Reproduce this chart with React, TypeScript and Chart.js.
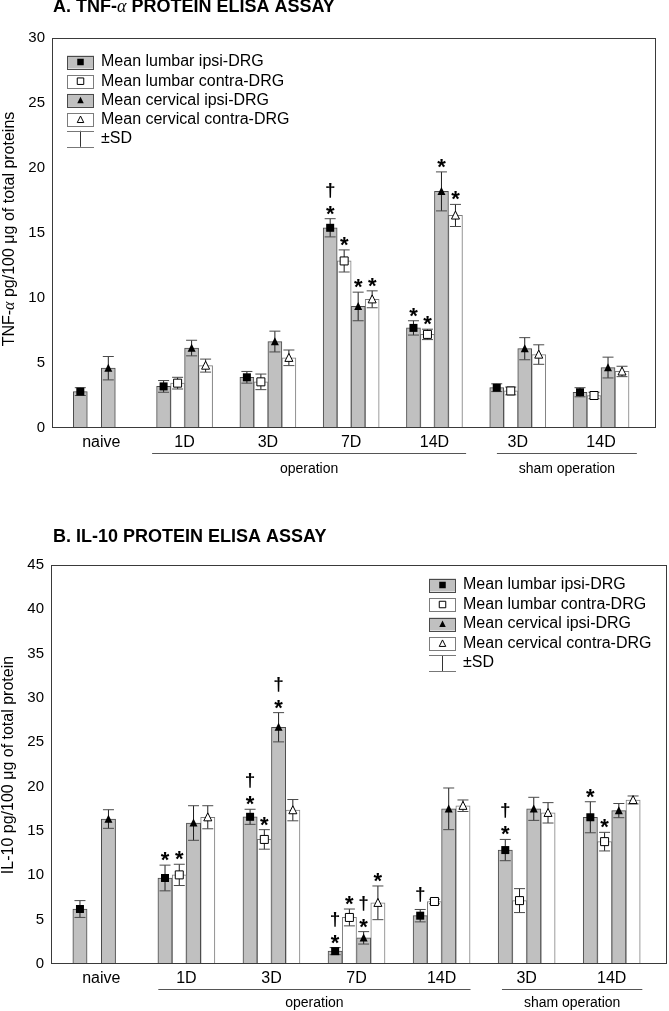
import React, { useEffect, useRef } from "react";
import { Chart, registerables, ChartConfiguration, Plugin } from "chart.js";

Chart.register(...registerables);

const groupLabels = ["naive", "1D", "3D", "7D", "14D", "3D", "14D"];
const seriesLabels = [
  "Mean lumbar ipsi-DRG",
  "Mean lumbar contra-DRG",
  "Mean cervical ipsi-DRG",
  "Mean cervical contra-DRG",
];

// A. TNF-alpha, pg/100 ug of total proteins (mean, SD)
const tnfLumbarIpsi = [2.8, 3.2, 3.9, 15.4, 7.7, 3.1, 2.75];
const tnfLumbarIpsiSd = [0.3, 0.45, 0.45, 0.7, 0.55, 0.3, 0.35];
const tnfLumbarContra = [null, 3.45, 3.55, 12.85, 7.2, 2.85, 2.5];
const tnfLumbarContraSd = [null, 0.45, 0.6, 0.85, 0.4, 0.3, 0.25];
const tnfCervicalIpsi = [4.6, 6.15, 6.65, 9.35, 18.2, 6.1, 4.65];
const tnfCervicalIpsiSd = [0.9, 0.6, 0.8, 1.1, 1.5, 0.85, 0.8];
const tnfCervicalContra = [null, 4.8, 5.4, 9.9, 16.35, 5.65, 4.35];
const tnfCervicalContraSd = [null, 0.5, 0.6, 0.65, 0.85, 0.75, 0.4];
// significance marks: * and/or †
const tnfLumbarIpsiMarks = ["", "", "", "*†", "*", "", ""];
const tnfLumbarContraMarks = ["", "", "", "*", "*", "", ""];
const tnfCervicalIpsiMarks = ["", "", "", "*", "*", "", ""];
const tnfCervicalContraMarks = ["", "", "", "*", "*", "", ""];

// B. IL-10, pg/100 ug of total protein (mean, SD)
const il10LumbarIpsi = [6.2, 9.7, 16.6, 1.45, 5.45, 12.85, 16.55];
const il10LumbarIpsiSd = [0.95, 1.45, 0.85, 0.4, 0.7, 1.2, 1.75];
const il10LumbarContra = [null, 10.05, 14.05, 5.25, 7.05, 7.15, 13.8];
const il10LumbarContraSd = [null, 1.2, 1.1, 0.95, 0.25, 1.35, 1.05];
const il10CervicalIpsi = [16.35, 15.9, 26.7, 2.95, 17.5, 17.5, 17.3];
const il10CervicalIpsiSd = [1.05, 1.95, 1.65, 0.7, 2.35, 1.3, 0.8];
const il10CervicalContra = [null, 16.55, 17.35, 6.9, 17.85, 17.05, 18.5];
const il10CervicalContraSd = [null, 1.3, 1.2, 1.9, 0.65, 1.15, 0.45];
const il10LumbarIpsiMarks = ["", "*", "*†", "*†", "†", "*†", "*"];
const il10LumbarContraMarks = ["", "*", "*", "*", "", "", "*"];
const il10CervicalIpsiMarks = ["", "", "*†", "*†", "", "", ""];
const il10CervicalContraMarks = ["", "", "", "*", "", "", ""];

const tnfTicks = [0, 5, 10, 15, 20, 25, 30];
const il10Ticks = [0, 5, 10, 15, 20, 25, 30, 35, 40, 45];

const SANS = "'Liberation Sans', Arial, sans-serif";
const SERIF = "'Liberation Serif', 'DejaVu Serif', serif";
const fills = ["#c0c0c0", "#ffffff", "#c0c0c0", "#ffffff"];
const borders = ["#4a4a4a", "#7c7c7c", "#4a4a4a", "#7c7c7c"];

type Series = { values: (number | null)[]; sd: (number | null)[]; marks: string[] };

type PanelProps = {
  width: number;
  height: number;
  series: Series[];
  ticks: number[];
  pad: { top: number; right: number; bottom: number; left: number };
  yAxisWidth: number;
  xMin: number;
  xMax: number;
  barThickness: number;
  title: string[]; // [before alpha, alpha, after]
  titleY: number;
  yTitle: string[];
  yTitleX: number;
  yTitleY: number;
  legendX: number;
  legendY: number;
  legendStep: number;
  labelGap: number[]; // offsets below axis: labels, line, group text
  operationRange: number[];
  shamRange: number[];
};

function drawMarker(ctx: CanvasRenderingContext2D, k: number, x: number, y: number, s: number) {
  ctx.save();
  ctx.lineWidth = 1;
  ctx.strokeStyle = "#000";
  ctx.fillStyle = k === 0 || k === 2 ? "#000" : "#fff";
  ctx.beginPath();
  if (k < 2) {
    ctx.rect(x - s / 2, y - s / 2, s, s);
  } else {
    ctx.moveTo(x, y - s * 0.55);
    ctx.lineTo(x + s / 2, y + s * 0.45);
    ctx.lineTo(x - s / 2, y + s * 0.45);
    ctx.closePath();
  }
  ctx.fill();
  if (k === 1 || k === 3) ctx.stroke();
  ctx.restore();
}

function drawErrorBar(ctx: CanvasRenderingContext2D, x: number, yt: number, yb: number, cap: number) {
  ctx.save();
  ctx.lineWidth = 1;
  ctx.strokeStyle = "#1e1e1e";
  ctx.beginPath();
  ctx.moveTo(x, yt);
  ctx.lineTo(x, yb);
  ctx.stroke();
  ctx.strokeStyle = "#4a4a4a";
  ctx.beginPath();
  ctx.moveTo(x - cap / 2, yt);
  ctx.lineTo(x + cap / 2, yt);
  ctx.moveTo(x - cap / 2, yb);
  ctx.lineTo(x + cap / 2, yb);
  ctx.stroke();
  ctx.restore();
}

function drawParts(ctx: CanvasRenderingContext2D, parts: { t: string; f: string }[], x: number, y: number, center: boolean) {
  let total = 0;
  parts.forEach((p) => {
    ctx.font = p.f;
    total += ctx.measureText(p.t).width;
  });
  let cx = center ? x - total / 2 : x;
  parts.forEach((p) => {
    ctx.font = p.f;
    ctx.fillText(p.t, cx, y);
    cx += ctx.measureText(p.t).width;
  });
}

const Panel = (p: PanelProps) => {
  const chartRef = useRef<HTMLCanvasElement | null>(null);
  const chartInstanceRef = useRef<Chart | null>(null);

  useEffect(() => {
    const ctx = chartRef.current?.getContext("2d");
    if (chartInstanceRef.current) {
      chartInstanceRef.current.destroy();
    }
    if (!ctx) return;

    const overlay: Plugin = {
      id: "overlay",
      afterDatasetsDraw(chart) {
        const c = chart.ctx;
        const ys = chart.scales.y;
        // error bars + markers + significance marks
        p.series.forEach((s, k) => {
          const meta = chart.getDatasetMeta(k);
          s.values.forEach((v, i) => {
            if (v == null) return;
            const el: any = meta.data[i];
            const sd = s.sd[i] || 0;
            const yt = ys.getPixelForValue(v + sd);
            const yb = ys.getPixelForValue(v - sd);
            drawErrorBar(c, el.x, yt, yb, 11);
            drawMarker(c, k, el.x, ys.getPixelForValue(v), 8);
            const m = s.marks[i];
            if (!m) return;
            c.save();
            c.fillStyle = "#000";
            c.textAlign = "center";
            c.textBaseline = "alphabetic";
            if (m.includes("*")) {
              c.font = `bold 22px ${SANS}`;
              c.fillText("*", el.x, yt + 2);
              if (m.includes("†")) {
                c.font = `bold 19px ${SANS}`;
                c.fillText("†", el.x, yt - 28 + 5);
              }
            } else if (m.includes("†")) {
              c.font = `bold 19px ${SANS}`;
              c.fillText("†", el.x, yt - 14 + 5);
            }
            c.restore();
          });
        });
      },
      afterDraw(chart) {
        const c = chart.ctx;
        const a = chart.chartArea;
        const xs = chart.scales.x;
        // frame
        c.save();
        c.strokeStyle = "#3a3a3a";
        c.lineWidth = 1;
        c.strokeRect(Math.round(a.left) - 0.5, Math.round(a.top) + 0.5, Math.round(a.right - a.left), Math.round(a.bottom - a.top) - 1);
        c.restore();

        c.save();
        c.fillStyle = "#000";
        // group tick labels
        c.font = `16px ${SANS}`;
        c.textAlign = "center";
        c.textBaseline = "middle";
        groupLabels.forEach((g, i) => {
          c.fillText(g, xs.getPixelForValue(i), a.bottom + p.labelGap[0]);
        });
        // grouping lines
        c.strokeStyle = "#555";
        c.lineWidth = 1;
        const ly = Math.round(a.bottom + p.labelGap[1]) + 0.5;
        [p.operationRange, p.shamRange].forEach((r) => {
          c.beginPath();
          c.moveTo(xs.getPixelForValue(r[0]), ly);
          c.lineTo(xs.getPixelForValue(r[1]), ly);
          c.stroke();
        });
        c.font = `14px ${SANS}`;
        c.fillText("operation", xs.getPixelForValue((p.operationRange[0] + p.operationRange[1]) / 2), a.bottom + p.labelGap[2]);
        c.fillText("sham operation", xs.getPixelForValue((p.shamRange[0] + p.shamRange[1]) / 2), a.bottom + p.labelGap[2]);

        // title
        c.textAlign = "left";
        drawParts(
          c,
          [
            { t: p.title[0], f: `bold 18px ${SANS}` },
            { t: p.title[1], f: `italic 18px ${SERIF}` },
            { t: p.title[2], f: `bold 18px ${SANS}` },
          ],
          53,
          p.titleY,
          false
        );

        // y axis title
        c.save();
        c.translate(p.yTitleX, p.yTitleY);
        c.rotate(-Math.PI / 2);
        drawParts(
          c,
          [
            { t: p.yTitle[0], f: `16px ${SANS}` },
            { t: p.yTitle[1], f: `italic 16px ${SERIF}` },
            { t: p.yTitle[2], f: `16px ${SANS}` },
          ],
          0,
          0,
          true
        );
        c.restore();

        // legend
        c.font = `16px ${SANS}`;
        c.textBaseline = "middle";
        seriesLabels.forEach((label, k) => {
          const y = p.legendY + k * p.legendStep;
          c.fillStyle = fills[k];
          c.fillRect(p.legendX, y - 6.5, 27, 13);
          c.strokeStyle = borders[k];
          c.strokeRect(p.legendX + 0.5, Math.round(y - 6.5) + 0.5, 26, 13);
          drawMarker(c, k, p.legendX + 13.5, y, 6.5);
          c.fillStyle = "#000";
          c.fillText(label, p.legendX + 34, y);
        });
        const sy = p.legendY + 4 * p.legendStep;
        const sx = Math.round(p.legendX + 13) + 0.5;
        c.strokeStyle = "#333";
        c.beginPath();
        c.moveTo(sx, sy - 8);
        c.lineTo(sx, sy + 8);
        c.stroke();
        c.strokeStyle = "#777";
        c.beginPath();
        c.moveTo(p.legendX, Math.round(sy - 8) + 0.5);
        c.lineTo(p.legendX + 27, Math.round(sy - 8) + 0.5);
        c.moveTo(p.legendX, Math.round(sy + 8) + 0.5);
        c.lineTo(p.legendX + 27, Math.round(sy + 8) + 0.5);
        c.stroke();
        c.fillStyle = "#000";
        c.fillText("±SD", p.legendX + 34, sy);
        c.restore();
      },
    };

    const config: ChartConfiguration<"bar"> = {
      type: "bar",
      data: {
        datasets: p.series.map((s, k) => ({
          label: seriesLabels[k],
          data: s.values.map((v, i) => ({ x: i, y: v })) as any,
          backgroundColor: fills[k],
          borderColor: borders[k],
          borderWidth: 1,
          barThickness: p.barThickness,
          grouped: true,
        })),
      },
      options: {
        responsive: false,
        animation: false,
        layout: { padding: p.pad },
        plugins: {
          legend: { display: false },
          tooltip: { enabled: false },
          title: { display: false },
        },
        scales: {
          x: {
            type: "linear",
            display: false,
            offset: false,
            min: p.xMin,
            max: p.xMax,
          },
          y: {
            min: p.ticks[0],
            max: p.ticks[p.ticks.length - 1],
            grid: { display: false, drawTicks: false },
            border: { display: false },
            afterBuildTicks: (scale: any) => {
              scale.ticks = p.ticks.map((v) => ({ value: v }));
            },
            afterFit: (scale: any) => {
              scale.width = p.yAxisWidth;
            },
            ticks: {
              padding: 8,
              color: "#000",
              font: { family: SANS, size: 15 },
            },
          },
        },
      },
      plugins: [overlay],
    };

    chartInstanceRef.current = new Chart(ctx, config);

    return () => {
      if (chartInstanceRef.current) {
        chartInstanceRef.current.destroy();
        chartInstanceRef.current = null;
      }
    };
  }, [p]);

  return <canvas ref={chartRef} width={p.width} height={p.height} style={{ display: "block" }} />;
};

const tnfPanel: PanelProps = {
  width: 669,
  height: 500,
  series: [
    { values: tnfLumbarIpsi, sd: tnfLumbarIpsiSd, marks: tnfLumbarIpsiMarks },
    { values: tnfLumbarContra, sd: tnfLumbarContraSd, marks: tnfLumbarContraMarks },
    { values: tnfCervicalIpsi, sd: tnfCervicalIpsiSd, marks: tnfCervicalIpsiMarks },
    { values: tnfCervicalContra, sd: tnfCervicalContraSd, marks: tnfCervicalContraMarks },
  ],
  ticks: tnfTicks,
  pad: { top: 38, right: 13, bottom: 72, left: 0 },
  yAxisWidth: 53,
  xMin: -0.58,
  xMax: 6.66,
  barThickness: 14,
  title: ["A. TNF-", "α", " PROTEIN ELISA ASSAY"],
  titleY: 7,
  yTitle: ["TNF-", "α", " pg/100 μg of total proteins"],
  yTitleX: 10,
  yTitleY: 229,
  legendX: 67,
  legendY: 62,
  legendStep: 19.2,
  labelGap: [15, 24.5, 41],
  operationRange: [0.61, 4.38],
  shamRange: [4.75, 6.43],
};

const il10Panel: PanelProps = {
  width: 669,
  height: 511,
  series: [
    { values: il10LumbarIpsi, sd: il10LumbarIpsiSd, marks: il10LumbarIpsiMarks },
    { values: il10LumbarContra, sd: il10LumbarContraSd, marks: il10LumbarContraMarks },
    { values: il10CervicalIpsi, sd: il10CervicalIpsiSd, marks: il10CervicalIpsiMarks },
    { values: il10CervicalContra, sd: il10CervicalContraSd, marks: il10CervicalContraMarks },
  ],
  ticks: il10Ticks,
  pad: { top: 65, right: 2, bottom: 47, left: 0 },
  yAxisWidth: 52,
  xMin: -0.58,
  xMax: 6.65,
  barThickness: 14.25,
  title: ["B. IL-10 PROTEIN ELISA ASSAY", "", ""],
  titleY: 37,
  yTitle: ["IL-10 pg/100 μg of total protein", "", ""],
  yTitleX: 9,
  yTitleY: 265,
  legendX: 429,
  legendY: 85,
  legendStep: 19.5,
  labelGap: [15, 24.5, 39],
  operationRange: [0.67, 4.34],
  shamRange: [4.71, 6.36],
};

export default function App() {
  return (
    <div style={{ position: "absolute", left: 0, top: 0, width: 669, height: 1011, background: "#fff" }}>
      <Panel {...tnfPanel} />
      <Panel {...il10Panel} />
    </div>
  );
}
